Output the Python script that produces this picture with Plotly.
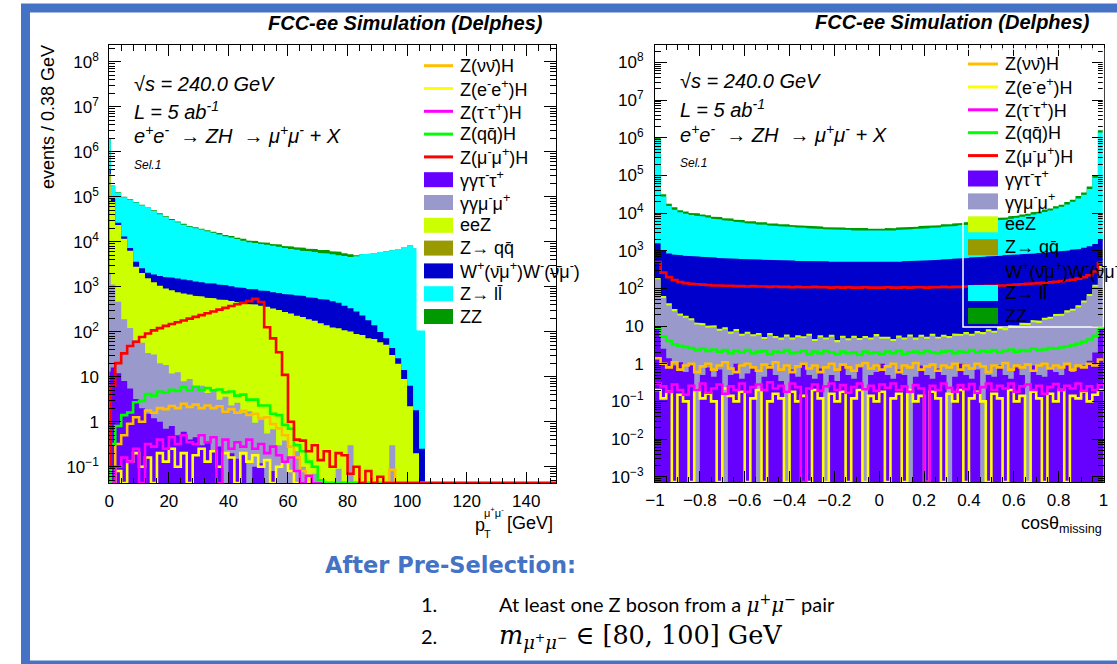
import numpy as np
import plotly.graph_objects as go

W, H = 1117, 664

# ------------------------------------------------------------------
# Left panel: pT of the mu+mu- pair  (bin edges in GeV)
# ------------------------------------------------------------------
pt_edges = [0, 0.5] + list(range(2, 110, 2)) + [150]

pt_ggtautau = [13, 16, 12, 8, 5.5, 3.2, 2.0, 1.5, 1.2, 1.0, 0.7, 0.8, 0.5, 0.6, 0.4, 0.45, 0.3, 0.35, 0.22, 0.28,
               0, 0.2, 0.15, 0.18, 0, 0.1, 0.12, 0, 0.08, 0,
               0, 0, 0, 0, 0, 0, 0, 0, 0, 0, 0, 0, 0, 0, 0, 0, 0, 0, 0, 0, 0, 0, 0, 0, 0, 0]
pt_ggmumu = [1980, 1100, 450, 180, 115, 62, 55, 32, 30, 19, 17.5, 11, 12, 7.3, 8.5, 5.5, 6.0, 4.0, 4.6, 2.8,
             3.6, 2.1, 2.5, 1.4, 1.7, 0.85, 1.0, 0.55, 0.6, 0.3, 0.38, 0.15, 0.22, 0.1, 0, 0.07, 0, 0, 0, 0.09,
             0, 0.3, 0, 0, 0, 0, 0, 0, 0.3, 0, 0, 0, 0, 0, 0, 0]
pt_eeZ = [3.14e5, 7.8e4, 2.3e4, 1.15e4, 6200, 2700, 1950, 1500, 1230, 1030,
          890, 825, 745, 700, 660, 620, 600, 565, 550, 515,
          500, 480, 452, 440, 412, 400, 375, 358, 328, 305,
          272, 255, 226, 212, 188, 176, 155, 140, 124, 119,
          108, 101, 89, 84, 72, 69, 58, 51, 30, 19.5,
          8.9, 2.2, 0.2, 0, 0, 0]
pt_WW = [8.2e4, 9700, 2860, 1430, 900, 800, 560, 520, 600, 680,
         740, 750, 755, 737, 719, 687, 656, 627, 625, 597,
         571, 544, 520, 496, 474, 473, 452, 439, 428, 422,
         417, 410, 417, 408, 398, 388, 379, 375, 353, 320,
         270, 231, 191, 146, 108, 70, 40, 21, 13, 6.1,
         5.2, 4.1, 1.6, 0.25, 0, 0]
pt_Zll = [1.55e6, 8.47e4, 9.67e4, 8.45e4, 7.99e4, 7.05e4, 6.22e4, 5.42e4, 4.60e4, 3.90e4,
          3.38e4, 2.86e4, 2.54e4, 2.25e4, 2.00e4, 1.86e4, 1.74e4, 1.58e4, 1.47e4, 1.33e4,
          1.21e4, 1.13e4, 1.05e4, 9540, 8880, 8460, 8080, 7720, 7370, 7040,
          6550, 6260, 5960, 5690, 5580, 5330, 5090, 4980, 4770, 4580,
          4410, 4240, 4500, 5020, 5190, 5490, 5790, 6100, 6410, 6890,
          7400, 8310, 7080, 3980, 0, 0]
pt_ZZ = [4.5e4, 4000, 2900, 2300, 2000, 1700, 1500, 1300, 2100, 2000,
         1500, 1600, 1150, 1250, 950, 1100, 800, 950, 700, 1150,
         880, 1000, 760, 1100, 900, 1000, 780, 900, 720, 850,
         800, 940, 900, 1050, 820, 960, 900, 1080, 850, 960,
         780, 720, 230, 0, 0, 0, 0, 0, 0, 0,
         0, 0, 0, 0, 0, 0]
pt_nunuH = [0, 0, 0.32, 0.5, 0.9, 1.26, 1.0, 1.78, 1.58, 2.0,
            1.9, 2.24, 2.0, 2.5, 2.14, 2.4, 2.0, 2.3, 2.0, 2.2,
            1.66, 1.9, 1.58, 1.74, 1.41, 1.5, 1.2, 1.26, 0.89, 0.71,
            0.5, 0.28, 0.16, 0.08, 0.063, 0, 0, 0, 0, 0,
            0, 0, 0, 0, 0, 0, 0, 0, 0.085, 0,
            0, 0, 0, 0, 0, 0]
pt_eeH = [0, 0, 0.08, 0, 0.13, 0.2, 0.1, 0.16, 0, 0.2,
          0.13, 0.25, 0.1, 0.2, 0, 0.18, 0.25, 0.13, 0.22, 0.1,
          0.2, 0.16, 0, 0.2, 0.13, 0.18, 0.1, 0.14, 0, 0.1,
          0.13, 0.08, 0, 0, 0, 0, 0, 0, 0, 0,
          0, 0, 0, 0, 0, 0, 0, 0, 0, 0,
          0, 0, 0, 0, 0, 0]
pt_tautauH = [0, 0, 0.1, 0.16, 0.13, 0.25, 0, 0.32, 0.28, 0.4,
              0.25, 0.45, 0.32, 0.5, 0.35, 0.32, 0.5, 0.35, 0.45, 0,
              0.4, 0.25, 0.35, 0.28, 0.4, 0.25, 0.32, 0.2, 0.28, 0.18,
              0.13, 0.16, 0.08, 0, 0.063, 0, 0, 0, 0, 0,
              0, 0, 0, 0, 0, 0, 0, 0, 0, 0,
              0, 0, 0, 0, 0, 0]
pt_qqH = [0, 0.32, 0.8, 1.4, 1.6, 2.7, 2.9, 4.1, 3.8, 4.7,
          4.4, 5.1, 4.8, 5.8, 5.0, 6.0, 5.1, 5.6, 5.0, 5.2,
          4.5, 4.7, 3.8, 4.0, 3.1, 3.1, 2.3, 2.3, 1.5, 1.4,
          0.85, 0.7, 0.3, 0.22, 0.13, 0.1, 0.05, 0, 0, 0,
          0, 0, 0, 0, 0, 0, 0, 0, 0, 0,
          0, 0, 0, 0, 0, 0]
pt_mumuH = [0.1, 6.3, 20, 33, 48, 60, 76, 91, 107, 120,
            135, 148, 162, 178, 195, 214, 234, 257, 282, 309,
            339, 372, 407, 437, 479, 537, 457, 126, 71, 35,
            11, 1.0, 0.4, 0.38, 0.22, 0.3, 0.14, 0.22, 0.1, 0.2,
            0.18, 0.07, 0.1, 0, 0.08, 0, 0.06, 0, 0, 0,
            0, 0, 0, 0, 0, 0]

# ------------------------------------------------------------------
# Right panel: cos(theta_missing)
# ------------------------------------------------------------------
cos_edges = np.linspace(-1, 1, 81)

cos_ggtautau = [8, 2.5, 1.4, 0.9, 1.1, 0.6, 0.9, 0, 0.5, 0.8,
                0.45, 0.7, 0, 0.5, 1.0, 0.4, 0.55, 0.8, 0, 0.45,
                0.9, 0.5, 0.35, 0, 0.7, 0.45, 1.0, 0.5, 0.4, 0.75,
                0, 0.5, 0.35, 0.9, 0.5, 0.4, 0.8, 0, 0.5, 0.6,
                1.0, 0.5, 0.4, 0.7, 0.5, 0, 0.45, 0.9, 0.5, 0.4,
                0.75, 0.5, 0, 0.45, 1.0, 0.5, 0.4, 0.7, 0, 0.5,
                0.45, 0.9, 0.5, 0.4, 0.8, 0.5, 0, 0.9, 0.5, 0.45,
                0.75, 0.6, 0.5, 0.9, 0.6, 0.8, 0.9, 1.2, 2, 8]
cos_ggmumu = [168, 53, 34, 24, 18, 16, 13.4, 11, 10, 8.2,
              8.8, 6.8, 8.2, 5.8, 6.4, 5.1, 5.7, 4.6, 5.8, 4.1,
              4.9, 4.3, 4.0, 5.3, 3.7, 4.6, 3.8, 5.0, 3.6, 4.3,
              4.4, 4.7, 3.4, 4.0, 3.7, 4.5, 3.5, 4.8, 3.9, 4.8,
              3.6, 4.1, 3.6, 4.3, 3.9, 5.3, 3.9, 4.3, 4.1, 5.1,
              3.9, 4.7, 4.8, 5.1, 4.5, 5.6, 5.1, 5.8, 6.1, 6.8,
              6.2, 7.4, 7.3, 8.8, 8.3, 10.3, 10.6, 11.8, 11.6, 14.2,
              14.8, 17.9, 18.3, 22.2, 24.9, 30.9, 41.3, 61.3, 109, 344]
cos_eeZ = [24, 7.6, 4.8, 3.4, 2.5, 2.3, 1.9, 1.5, 1.44, 1.2,
           1.26, 1.0, 1.1, 0.86, 0.95, 0.76, 0.85, 0.7, 0.79, 0.62,
           0.76, 0.66, 0.6, 0.72, 0.58, 0.7, 0.6, 0.76, 0.55, 0.66,
           0.6, 0.71, 0.53, 0.62, 0.58, 0.67, 0.55, 0.65, 0.6, 0.72,
           0.58, 0.62, 0.55, 0.66, 0.6, 0.72, 0.59, 0.67, 0.62, 0.76,
           0.6, 0.71, 0.65, 0.76, 0.7, 0.83, 0.74, 0.86, 0.83, 1.0,
           0.91, 1.1, 1.07, 1.26, 1.2, 1.48, 1.44, 1.7, 1.66, 2.0,
           2.1, 2.5, 2.6, 3.1, 3.5, 4.3, 5.8, 8.5, 15, 48]
cos_WW = [1385, 937, 811, 766, 738, 722, 708, 695, 680, 666,
          651, 638, 622, 624, 609, 597, 596, 583, 582, 570,
          569, 556, 557, 544, 545, 531, 532, 531, 520, 519,
          520, 507, 509, 508, 496, 495, 496, 496, 496, 495,
          496, 496, 508, 507, 520, 519, 532, 544, 545, 556,
          570, 583, 598, 611, 625, 639, 655, 669, 685, 700,
          716, 732, 750, 766, 784, 801, 820, 837, 857, 874,
          895, 934, 956, 997, 1043, 1086, 1154, 1247, 1388, 1595]
cos_Zll = [8.69e5, 26540, 14640, 11510, 9710, 8810, 8190, 7800, 7440, 6910,
           6420, 6120, 5830, 5540, 5270, 5020, 4770, 4660, 4420, 4320,
           4100, 4010, 3900, 3820, 3720, 3630, 3540, 3440, 3370, 3280,
           3190, 3120, 3120, 3040, 3050, 2970, 2970, 2970, 2890, 2890,
           2890, 2970, 2950, 3040, 3110, 3190, 3270, 3340, 3430, 3510,
           3590, 3780, 3860, 3950, 4160, 4250, 4470, 4690, 4930, 5180,
           5440, 5720, 6000, 6300, 6790, 7130, 7680, 8270, 8900, 9820,
           10840, 12230, 13810, 15960, 18880, 23430, 29700, 42330, 85580, 1.378e6]
cos_ZZ = [1.29e5, 4300, 2100, 1950, 1450, 1500, 1200, 1380, 1100, 1230,
          950, 1100, 880, 1000, 800, 920, 720, 860, 680, 800,
          640, 740, 600, 720, 580, 680, 560, 650, 530, 620,
          500, 600, 490, 580, 470, 570, 460, 560, 450, 550,
          460, 560, 470, 580, 490, 600, 510, 630, 540, 660,
          560, 700, 600, 740, 650, 790, 690, 870, 760, 950,
          830, 1050, 900, 1150, 1020, 1280, 1150, 1480, 1320, 1740,
          1580, 2100, 2000, 2750, 2700, 3950, 4200, 7000, 12900, 2.05e5]
cos_nunuH = [1.4, 1.0, 0.8, 1.1, 0.7, 0.9, 1.0, 0.6, 0.85, 1.0,
             0.7, 0.9, 1.1, 0.75, 0.6, 0.9, 1.0, 0.8, 0.65, 0.95,
             0.8, 1.1, 0.7, 0.9, 0.6, 0.85, 1.0, 0.75, 0.9, 0.6,
             0.8, 1.0, 0.7, 0.95, 0.8, 0.65, 0.9, 1.05, 0.75, 0.9,
             0.7, 0.85, 1.0, 0.6, 0.9, 0.8, 1.05, 0.7, 0.85, 0.95,
             0.65, 0.9, 0.8, 1.0, 0.7, 0.9, 0.75, 1.0, 0.85, 0.6,
             0.9, 0.8, 1.05, 0.7, 0.9, 0.8, 0.95, 0.65, 0.9, 1.0,
             0.75, 0.9, 0.8, 1.0, 0.7, 0.9, 0.8, 1.0, 0.9, 1.3]
cos_eeH = [0.2, 0.12, 0.18, 0, 0.15, 0.1, 0, 0.2, 0.12, 0.16,
           0.1, 0, 0.22, 0.14, 0.1, 0.18, 0, 0.12, 0.2, 0,
           0.1, 0.16, 0.12, 0, 0.18, 0.1, 0.14, 0, 0.2, 0.12,
           0, 0.16, 0.1, 0.18, 0, 0.12, 0.2, 0, 0.14, 0.1,
           0.18, 0, 0.12, 0.16, 0, 0.2, 0.1, 0.14, 0, 0.18,
           0.12, 0, 0.16, 0.1, 0.2, 0, 0.12, 0.18, 0.1, 0,
           0.16, 0.12, 0, 0.2, 0.1, 0.14, 0, 0.18, 0.12, 0,
           0.16, 0.1, 0.2, 0, 0.14, 0.12, 0.18, 0.1, 0.15, 0.2]
cos_tautauH = [0.3, 0.25, 0.18, 0.28, 0.2, 0.15, 0.26, 0.2, 0.3, 0.17,
               0.22, 0.28, 0.16, 0.25, 0.2, 0.3, 0.18, 0.24, 0.28, 0.2,
               0.32, 0.22, 0.26, 0.18, 0.3, 0.24, 0, 0.22, 0.28, 0.19,
               0.25, 0.3, 0.2, 0.27, 0.17, 0.24, 0.3, 0.21, 0.26, 0.19,
               0.28, 0.23, 0.3, 0.2, 0.25, 0.18, 0.27, 0.22, 0, 0.26,
               0.2, 0.3, 0.23, 0.18, 0.27, 0.21, 0.29, 0.17, 0.24, 0.3,
               0.2, 0.26, 0.22, 0.3, 0.18, 0.25, 0.28, 0.2, 0.26, 0.16,
               0.24, 0.29, 0.2, 0.26, 0.22, 0.3, 0.19, 0.25, 0.2, 0.28]
cos_qqH = [9, 5.2, 4.0, 3.3, 3.0, 2.8, 2.6, 2.3, 2.5, 2.2,
           2.4, 2.1, 2.3, 1.9, 2.2, 2.0, 2.3, 1.9, 2.1, 2.2,
           1.8, 2.1, 2.0, 2.3, 1.9, 2.0, 2.2, 1.8, 2.1, 1.9,
           2.2, 2.0, 1.8, 2.1, 1.9, 2.0, 1.7, 2.1, 1.9, 2.0,
           1.8, 2.1, 1.9, 2.2, 1.8, 2.0, 2.1, 1.9, 2.2, 2.0,
           1.9, 2.1, 2.2, 1.9, 2.1, 2.0, 2.3, 2.0, 2.2, 2.1,
           2.3, 2.0, 2.2, 2.4, 2.1, 2.3, 2.2, 2.5, 2.3, 2.4,
           2.6, 2.5, 2.7, 2.9, 3.1, 3.4, 3.8, 4.4, 5.5, 9]
cos_mumuH = [501, 263, 200, 166, 148, 138, 132, 129, 126, 123,
             120, 120, 117.5, 117.5, 115, 115, 112, 115, 112, 112,
             110, 112, 110, 110, 107, 110, 107, 107, 110, 107,
             107, 105, 107, 105, 107, 105, 105, 107, 105, 105,
             105, 107, 105, 105, 107, 105, 107, 107, 105, 107,
             107, 110, 107, 110, 110, 112, 112, 115, 115, 117.5,
             117.5, 120, 120, 123, 126, 129, 132, 135, 138, 141,
             145, 151, 155, 162, 170, 182, 200, 224, 282, 479]

# ------------------------------------------------------------------
# Legend / labels
# ------------------------------------------------------------------
legend_labels = ["Z(νν\u0304)H", "Z(e<sup>-</sup>e<sup>+</sup>)H", "Z(τ<sup>-</sup>τ<sup>+</sup>)H",
                 "Z(qq\u0304)H", "Z(μ<sup>-</sup>μ<sup>+</sup>)H", "γγτ<sup>-</sup>τ<sup>+</sup>",
                 "γγμ<sup>-</sup>μ<sup>+</sup>", "eeZ", "Z→ qq\u0304",
                 "W<sup>+</sup>(ν\u0304μ<sup>+</sup>)W<sup>-</sup>(ν\u0304μ<sup>-</sup>)", "Z→ ll\u0304", "ZZ"]
legend_colors = ["#FFBF00", "#FFFF00", "#FF00FF", "#00FF00", "#FF0000", "#6600FF",
                 "#9999CC", "#CCFF00", "#999900", "#0000CC", "#00FFFF", "#009900"]
legend_kinds = ["line", "line", "line", "line", "line", "fill",
                "fill", "fill", "fill", "fill", "fill", "fill"]

y_exp_left = [-1, 0, 1, 2, 3, 4, 5, 6, 7, 8]
y_exp_right = [-3, -2, -1, 0, 1, 2, 3, 4, 5, 6, 7, 8]
x_ticks_right = [-1, -0.8, -0.6, -0.4, -0.2, 0, 0.2, 0.4, 0.6, 0.8, 1]
x_ticktext_right = ["−1", "−0.8", "−0.6", "−0.4", "−0.2", "0", "0.2", "0.4", "0.6", "0.8", "1"]

for arr in [pt_ggtautau, pt_ggmumu, pt_eeZ, pt_WW, pt_Zll, pt_ZZ, pt_nunuH, pt_eeH,
            pt_tautauH, pt_qqH, pt_mumuH]:
    assert len(arr) == len(pt_edges) - 1, len(arr)
for arr in [cos_ggtautau, cos_ggmumu, cos_eeZ, cos_WW, cos_Zll, cos_ZZ, cos_nunuH, cos_eeH,
            cos_tautauH, cos_qqH, cos_mumuH]:
    assert len(arr) == len(cos_edges) - 1, len(arr)

# ------------------------------------------------------------------
LEFT_YR = [-1.362, 8.371]
RIGHT_YR = [-3.14, 8.477]
FONT = "Liberation Sans"

fig = go.Figure()


def add_stack(edges, comps, colors, xa, ya):
    arr = np.array(comps, dtype=float)
    cum = np.cumsum(arr, axis=0)
    e = np.array(edges, dtype=float)
    floor = 1e-9
    xs_top = np.repeat(e, 2)[1:-1]
    for j in range(len(comps) - 1, -1, -1):
        v = np.where(cum[j] > 0, cum[j], floor)
        ys = np.concatenate([np.repeat(v, 2), [floor, floor]])
        xs = np.concatenate([xs_top, [e[-1], e[0]]])
        fig.add_trace(go.Scatter(x=xs, y=ys, mode="lines", fill="toself", fillcolor=colors[j],
                                 line=dict(width=0, color=colors[j]), xaxis=xa, yaxis=ya,
                                 hoverinfo="skip", showlegend=False))


def add_step(edges, vals, color, xa, ya, ylog_min):
    v = np.array(vals, dtype=float)
    v = np.where(v > 0, v, 10 ** ylog_min)
    y = np.append(v, v[-1])
    fig.add_trace(go.Scatter(x=list(edges), y=y, mode="lines",
                             line=dict(color=color, width=2.6, shape="hv"),
                             xaxis=xa, yaxis=ya, hoverinfo="skip", showlegend=False))


stack_colors = ["#6600FF", "#9999CC", "#CCFF00", "#0000CC", "#00FFFF", "#009900"]
add_stack(pt_edges, [pt_ggtautau, pt_ggmumu, pt_eeZ, pt_WW, pt_Zll, pt_ZZ], stack_colors, "x", "y")
for vals, col in [(pt_nunuH, "#FFBF00"), (pt_eeH, "#FFFF00"), (pt_tautauH, "#FF00FF"),
                  (pt_qqH, "#00FF00"), (pt_mumuH, "#FF0000")]:
    add_step(pt_edges, vals, col, "x", "y", LEFT_YR[0])

add_stack(cos_edges, [cos_ggtautau, cos_ggmumu, cos_eeZ, cos_WW, cos_Zll, cos_ZZ], stack_colors, "x2", "y2")
for vals, col in [(cos_nunuH, "#FFBF00"), (cos_eeH, "#FFFF00"), (cos_tautauH, "#FF00FF"),
                  (cos_qqH, "#00FF00"), (cos_mumuH, "#FF0000")]:
    add_step(cos_edges, vals, col, "x2", "y2", RIGHT_YR[0])

# ------------------------------------------------------------------
axis_common = dict(showline=True, linecolor="black", linewidth=1, mirror="allticks",
                   ticks="inside", tickcolor="black", tickwidth=1, showgrid=False,
                   zeroline=False, automargin=False,
                   tickfont=dict(family=FONT, size=17, color="black"))


def ytext(e):
    if e == 0:
        return "1"
    if e == 1:
        return "10"
    return "10<sup>%s</sup>" % (str(e).replace("-", "−"))


fig.update_layout(
    template="none",
    width=W, height=H, autosize=False,
    margin=dict(l=0, r=0, t=0, b=0, pad=0, autoexpand=False),
    paper_bgcolor="white", plot_bgcolor="white", showlegend=False,
    font=dict(family=FONT, color="black"),
    xaxis=dict(axis_common, domain=[109.3 / W, 556 / W], range=[0, 150], anchor="y",
               tickmode="linear", tick0=0, dtick=20, ticklen=11, ticklabelstandoff=3,
               minor=dict(ticks="inside", ticklen=5.5, tick0=0, dtick=4, tickcolor="black",
                          tickwidth=1, showgrid=False)),
    yaxis=dict(axis_common, type="log", domain=[1 - 483 / H, 1 - 45 / H], range=LEFT_YR,
               anchor="x", tickmode="array", tickvals=[10.0 ** e for e in y_exp_left],
               ticktext=[ytext(e) for e in y_exp_left], ticklen=12, ticklabelstandoff=6,
               minor=dict(ticks="inside", ticklen=6, dtick="D1", tickcolor="black",
                          tickwidth=1, showgrid=False)),
    xaxis2=dict(axis_common, domain=[655 / W, 1103.5 / W], range=[-1, 1], anchor="y2",
                tickmode="array", tickvals=x_ticks_right, ticktext=x_ticktext_right,
                ticklen=11, ticklabelstandoff=3,
                minor=dict(ticks="inside", ticklen=5.5, tick0=-1, dtick=0.05, tickcolor="black",
                           tickwidth=1, showgrid=False)),
    yaxis2=dict(axis_common, type="log", domain=[1 - 482 / H, 1 - 44.5 / H], range=RIGHT_YR,
                anchor="x2", tickmode="array", tickvals=[10.0 ** e for e in y_exp_right],
                ticktext=[ytext(e) for e in y_exp_right], ticklen=12, ticklabelstandoff=7,
                minor=dict(ticks="inside", ticklen=6, dtick="D1", tickcolor="black",
                           tickwidth=1, showgrid=False)),
)

# ------------------------------------------------------------------
shapes = []
annotations = []


def px(x):
    return x / W


def py(y):
    return 1 - y / H


def txt(x, y, s, size, xanchor="left", yanchor="middle", family=FONT, color="black", angle=0):
    annotations.append(dict(x=px(x), y=py(y), xref="paper", yref="paper", text=s, showarrow=False,
                            xanchor=xanchor, yanchor=yanchor, textangle=angle,
                            font=dict(family=family, size=size, color=color)))


def rect(x0, y0, x1, y1, fill, line_color=None, lw=0):
    shapes.append(dict(type="rect", xref="paper", yref="paper", x0=px(x0), x1=px(x1),
                       y0=py(y1), y1=py(y0), fillcolor=fill, layer="above",
                       line=dict(color=line_color or "rgba(0,0,0,0)", width=lw)))


def hline(x0, x1, y, color, lw):
    shapes.append(dict(type="line", xref="paper", yref="paper", x0=px(x0), x1=px(x1),
                       y0=py(y), y1=py(y), layer="above", line=dict(color=color, width=lw)))


def draw_legend(sx0, sx1, tx, y0, dy, half):
    for i, (lab, col, kind) in enumerate(zip(legend_labels, legend_colors, legend_kinds)):
        yy = y0 + i * dy
        if kind == "line":
            hline(sx0, sx1, yy, col, 3)
        else:
            rect(sx0, yy - half, sx1, yy + half, col)
        txt(tx, yy, lab, 18)


# left legend (white filled box)
rect(417, 58, 543, 330, "white", "white", 1)
draw_legend(424, 453, 458, 65.7, 22.8, 7.5)
# right legend (transparent box with white border)
rect(963, 49, 1103.5, 327, "rgba(0,0,0,0)", "white", 1.5)
draw_legend(968, 998, 1003, 64, 22.9, 8)

# titles
txt(545, 23, "<b><i>FCC-ee Simulation (Delphes)</i></b>", 20, xanchor="right")
txt(1092, 22, "<b><i>FCC-ee Simulation (Delphes)</i></b>", 20, xanchor="right")

# in-pad texts
for x0, ys in [(132, (84, 110, 135, 165)), (678, (81, 108, 133, 163))]:
    txt(x0, ys[0], "<i>√s = 240.0 GeV</i>", 20)
    txt(x0, ys[1], "<i>L = 5 ab<sup>-1</sup></i>", 20)
    txt(x0, ys[2], "<i>e<sup>+</sup>e<sup>-</sup>  → ZH  → μ<sup>+</sup>μ<sup>-</sup> + X</i>", 20)
    txt(x0, ys[3], "<i>Sel.1</i>", 12)

# axis titles
txt(48, 43, "events / 0.38 GeV", 18, xanchor="center", yanchor="top", angle=-90)
txt(480, 525, "p", 18, xanchor="center")
txt(494, 512, "μ<sup>+</sup>μ<sup>-</sup>", 11, xanchor="center")
txt(487, 534, "T", 11, xanchor="center")
txt(555, 523, "[GeV]", 18, xanchor="right")
txt(1104, 524, "cosθ<sub>missing</sub>", 18, xanchor="right")

# slide text
txt(323, 565, "<b>After Pre-Selection:</b>", 22.5, family="DejaVu Sans", color="#4472C4")
txt(419, 604, "1.", 20, family="Lato")
txt(497, 604, "At least one Z boson from a <span style='font-family:DejaVu Serif'><i>μ</i><sup>+</sup><i>μ</i><sup>−</sup></span> pair", 20, family="Lato")
txt(419, 636, "2.", 20, family="Lato")
txt(497, 636, "<i>m</i><sub><i>μ</i><sup>+</sup><i>μ</i><sup>−</sup></sub> ∈ [80, 100] GeV", 25.5, family="DejaVu Serif")

# slide border
shapes.append(dict(type="rect", xref="paper", yref="paper", x0=px(25.5), x1=px(1122),
                   y0=py(665), y1=py(8), layer="above", fillcolor="rgba(0,0,0,0)",
                   line=dict(color="#4472C4", width=9)))

fig.update_layout(shapes=shapes, annotations=annotations)

post = ("document.body.style.margin='0px';document.body.style.padding='0px';"
        "document.body.style.overflow='hidden';")
fig.write_html("out.html", config={"responsive": False}, post_script=post)
